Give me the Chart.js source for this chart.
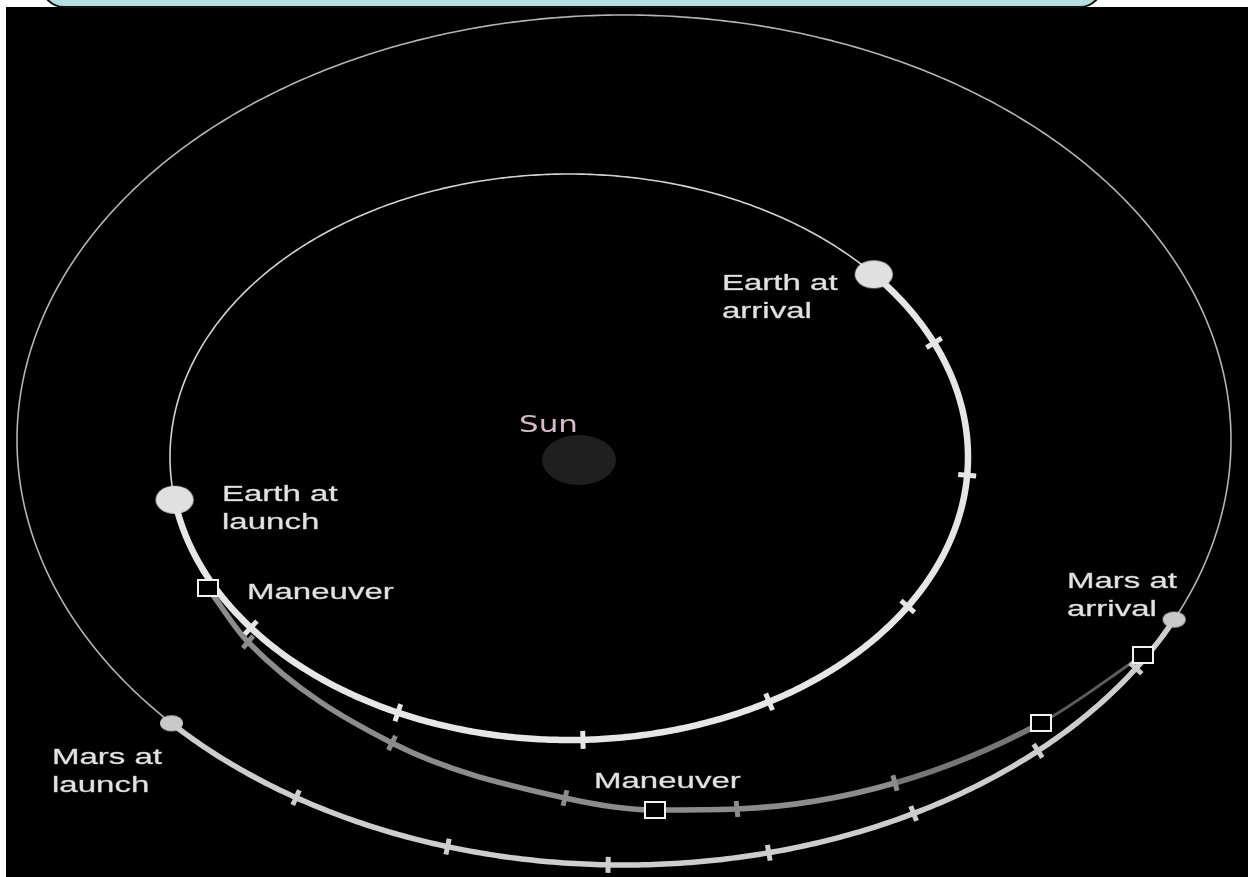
<!DOCTYPE html>
<html>
<head>
<meta charset="utf-8">
<title>Earth to Mars transfer</title>
<script src="https://cdn.jsdelivr.net/npm/chart.js@4.4.1/dist/chart.umd.min.js"></script>
<style>
  html, body { margin: 0; padding: 0; background: #fff; }
  #wrap { width: 1248px; height: 877px; }
</style>
</head>
<body>
<div id="wrap"><canvas id="orbitChart" width="1248" height="877"></canvas></div>
<script>
// ---------- DATA ----------
// orbits, seen in perspective (so they are ellipses)
const orbitNames = ["Earth", "Mars"];
const orbitCenterX = [569, 624];
const orbitCenterY = [457, 440];
const orbitRadiusX = [399, 607];
const orbitRadiusY = [283, 425];

// angle (deg) along each orbit of the planet at launch / at arrival
const launchAngles = [171.3, 138.2];
const arrivalAngles = [-40.2, 25.0];

// monthly marks along each planet's path
const earthTicks = [142.9, 115.4, 88, 59.9, 31.9, 3.7, -23.8];
const marsTicks = [122.7, 106.9, 91.5, 76.2, 61.5, 47, 32.5];

// spacecraft path after leaving Earth
const transferX = [208, 248, 392, 565, 655, 737, 895, 1041, 1143];
const transferY = [588, 642, 743, 798, 810, 809, 783, 723, 655];
const transferMarks = ["maneuver", "tick", "tick", "tick", "maneuver", "tick", "tick", "maneuver", "maneuver"];

const sunXY = [579, 460];

// text labels (left x, first baseline y)
const notes = [
  { lines: ["Earth at", "arrival"], x: 722, y: 290 },
  { lines: ["Earth at", "launch"], x: 222, y: 501 },
  { lines: ["Maneuver"], x: 247, y: 599 },
  { lines: ["Mars at", "arrival"], x: 1067, y: 588 },
  { lines: ["Mars at", "launch"], x: 52, y: 764 },
  { lines: ["Maneuver"], x: 594, y: 788 }
];

// ---------- GEOMETRY ----------
function orbitPoint(i, deg) {
  const t = deg * Math.PI / 180;
  return {
    x: orbitCenterX[i] + orbitRadiusX[i] * Math.cos(t),
    y: orbitCenterY[i] + orbitRadiusY[i] * Math.sin(t)
  };
}

function arcPoints(i, from, to) {
  const pts = [];
  const span = Math.abs(to - from);
  const dir = to > from ? 1 : -1;
  for (let k = 0; k < span; k++) pts.push(orbitPoint(i, from + dir * k));
  pts.push(orbitPoint(i, to));
  return pts;
}

// bar across the orbit = along the normal
function tickRotation(i, deg) {
  const t = deg * Math.PI / 180;
  return Math.atan2(orbitRadiusX[i] * Math.sin(t), orbitRadiusY[i] * Math.cos(t)) * 180 / Math.PI;
}

function transferRotation(k) {
  const a = Math.max(0, k - 1), b = Math.min(transferX.length - 1, k + 1);
  return Math.atan2(transferY[b] - transferY[a], transferX[b] - transferX[a]) * 180 / Math.PI + 90;
}

// ---------- MARKERS ----------
function ellipseMarker(w, h, color) {
  const c = document.createElement("canvas");
  c.width = w + 2; c.height = h + 2;
  const g = c.getContext("2d");
  g.fillStyle = color;
  g.beginPath();
  g.ellipse(c.width / 2, c.height / 2, w / 2, h / 2, 0, 0, Math.PI * 2);
  g.fill();
  return c;
}

function squareMarker(w, h) {
  const c = document.createElement("canvas");
  c.width = w; c.height = h;
  const g = c.getContext("2d");
  g.fillStyle = "#000";
  g.fillRect(0, 0, w, h);
  g.strokeStyle = "#f2f2f2";
  g.lineWidth = 2;
  g.strokeRect(1, 1, w - 2, h - 2);
  return c;
}

const earthDot = ellipseMarker(38, 28, "#e0e0e0");
const marsDot = ellipseMarker(23, 16, "#c9c9c9");
const sunDot = ellipseMarker(74, 50, "#1f1f1f");
const boxMark = squareMarker(22, 18);

// ---------- PLUGINS ----------
const backdrop = {
  id: "backdrop",
  beforeDraw(chart) {
    const c = chart.ctx;
    c.save();
    c.fillStyle = "#fff";
    c.fillRect(0, 0, chart.width, chart.height);
    c.fillStyle = "#000";
    c.fillRect(6, 7, chart.width - 6, chart.height - 7);
    c.beginPath();
    c.roundRect(42, -40, 1060, 47, 22);
    c.fillStyle = "#b4dee2";
    c.fill();
    c.lineWidth = 2;
    c.strokeStyle = "#111";
    c.stroke();
    c.restore();
  }
};

const labels = {
  id: "labels",
  afterDatasetsDraw(chart) {
    const c = chart.ctx;
    const sx = chart.scales.x, sy = chart.scales.y;
    c.save();
    c.fillStyle = "#e2e2e2";
    c.strokeStyle = "rgba(226,226,226,0.6)";
    c.lineWidth = 0.7;
    c.font = "33px 'Liberation Sans', Arial, sans-serif";
    c.textBaseline = "alphabetic";
    notes.forEach(n => {
      n.lines.forEach((line, k) => {
        c.save();
        c.translate(sx.getPixelForValue(n.x), sy.getPixelForValue(n.y + k * 28));
        c.scale(1, 0.66);
        c.fillText(line, 0, 0);
        c.strokeText(line, 0, 0);
        c.restore();
      });
    });
    // Sun label
    c.save();
    c.fillStyle = "#d9b9c9";
    c.font = "31px 'DejaVu Sans', sans-serif";
    c.translate(sx.getPixelForValue(519), sy.getPixelForValue(432));
    c.scale(1, 0.72);
    c.fillText("Sun", 0, 0);
    c.restore();
    c.restore();
  }
};

// ---------- CHART ----------
// small tension keeps Chart.js off its fast path, which breaks on curves
// that double back in x
const datasets = [
  {
    label: "Earth orbit",
    data: arcPoints(0, 0, 360),
    showLine: true, pointRadius: 0, tension: 0.2,
    borderColor: "#d2d2d2", borderWidth: 1.6,
    order: 20
  },
  {
    label: "Mars orbit",
    data: arcPoints(1, 0, 360),
    showLine: true, pointRadius: 0, tension: 0.2,
    borderColor: "#b4b4b4", borderWidth: 1.6,
    order: 20
  },
  {
    label: "Transfer",
    data: transferX.map((x, k) => ({ x, y: transferY[k] })),
    showLine: true,
    cubicInterpolationMode: "monotone",
    borderColor: "#8c8c8c", borderWidth: 5.5,
    borderCapStyle: "round",
    segment: {
      borderColor: ctx => ctx.p0DataIndex === 7 ? "#5c5c5c" : ctx.p0DataIndex === 6 ? "#767676" : undefined,
      borderWidth: ctx => ctx.p0DataIndex === 7 ? 3 : undefined
    },
    pointStyle: "line",
    pointRadius: transferMarks.map(m => m === "tick" ? 8 : 0),
    pointRotation: transferMarks.map((m, k) => transferRotation(k)),
    pointBorderColor: "#8c8c8c", pointBorderWidth: 5,
    order: 12
  },
  {
    label: "Mars path",
    data: arcPoints(1, launchAngles[1], arrivalAngles[1]),
    showLine: true, pointRadius: 0, tension: 0.2,
    borderColor: "#cdcdcd", borderWidth: 5.5, borderCapStyle: "round",
    order: 10
  },
  {
    label: "Earth path",
    data: arcPoints(0, launchAngles[0], arrivalAngles[0]),
    showLine: true, pointRadius: 0, tension: 0.2,
    borderColor: "#e6e6e6", borderWidth: 6.5, borderCapStyle: "round",
    order: 9
  },
  {
    label: "Mars ticks",
    data: marsTicks.map(a => orbitPoint(1, a)),
    pointStyle: "line", pointRadius: 8,
    pointRotation: marsTicks.map(a => tickRotation(1, a)),
    pointBorderColor: "#cdcdcd", pointBorderWidth: 5,
    order: 8
  },
  {
    label: "Earth ticks",
    data: earthTicks.map(a => orbitPoint(0, a)),
    pointStyle: "line", pointRadius: 9,
    pointRotation: earthTicks.map(a => tickRotation(0, a)),
    pointBorderColor: "#e6e6e6", pointBorderWidth: 5,
    order: 7
  },
  {
    label: "Sun",
    data: [{ x: sunXY[0], y: sunXY[1] }],
    pointStyle: sunDot, pointRadius: 30,
    order: 6
  },
  {
    label: "Earth",
    data: [orbitPoint(0, launchAngles[0]), orbitPoint(0, arrivalAngles[0])],
    pointStyle: earthDot, pointRadius: 15,
    order: 4
  },
  {
    label: "Mars",
    data: [orbitPoint(1, launchAngles[1]), orbitPoint(1, arrivalAngles[1])],
    pointStyle: marsDot, pointRadius: 10,
    order: 4
  },
  {
    label: "Maneuvers",
    data: transferX.map((x, k) => ({ x, y: transferY[k] })).filter((p, k) => transferMarks[k] === "maneuver"),
    pointStyle: boxMark, pointRadius: 10,
    order: 2
  }
];

datasets.forEach(d => { d.clip = false; });

new Chart(document.getElementById("orbitChart"), {
  type: "scatter",
  data: { datasets },
  options: {
    responsive: false,
    animation: false,
    events: [],
    layout: { padding: 0, autoPadding: false },
    plugins: { legend: { display: false }, tooltip: { enabled: false } },
    scales: {
      x: { type: "linear", min: 0, max: 1248, display: false },
      y: { type: "linear", min: 0, max: 877, reverse: true, display: false }
    }
  },
  plugins: [backdrop, labels]
});
</script>
</body>
</html>
